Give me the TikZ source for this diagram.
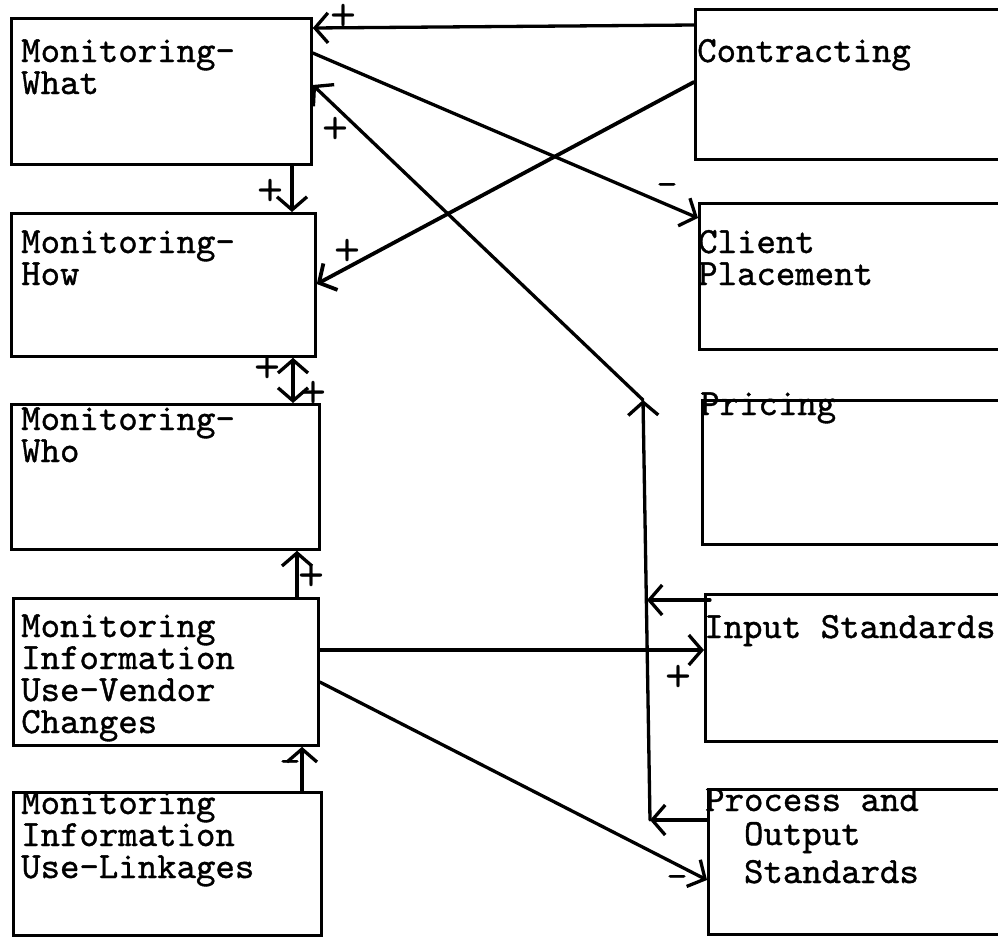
\documentclass[tikz,border=0pt]{standalone}
\usepackage{fontspec}
\setmonofont[FakeBold=1]{lmmono10-regular.otf}
\newfontfamily\signfont[FakeBold=1.5]{lmsans10-bold.otf}
\usepackage{tikz}
\usetikzlibrary{arrows.meta}

\tikzset{barb/.tip={Straight Barb[length=13pt,width=30pt]}}

\begin{document}
\begin{tikzpicture}[
  x=1pt, y=-1pt,
  box/.style ={draw, line width=2.8pt, anchor=north west, inner sep=0pt},
  txt/.style ={font=\ttfamily\fontsize{37}{32}\selectfont, anchor=base west,
               align=left, inner sep=0pt},
  sgn/.style ={font=\signfont\fontsize{30}{30}\selectfont, inner sep=0pt},
  lnk/.style ={-barb, line width=3.3pt, line cap=round},
  both/.style={barb-barb, line width=3.3pt, line cap=round}]

\useasboundingbox (0,0) rectangle (998,938);
\clip (0,0) rectangle (998,938);

% left column
\node[box, minimum width=300pt, minimum height=146pt] (what)     at (10,17)  {};
\node[box, minimum width=304pt, minimum height=143pt] (how)      at (10,212) {};
\node[box, minimum width=308pt, minimum height=145pt] (who)      at (10,403) {};
\node[box, minimum width=305pt, minimum height=147pt] (vendor)   at (12,597) {};
\node[box, minimum width=308pt, minimum height=143pt] (linkages) at (12,791) {};

% right column, running off the sheet
\node[box, minimum width=340pt, minimum height=150pt] (contr)   at (694,8)   {};
\node[box, minimum width=340pt, minimum height=146pt] (client)  at (698,202) {};
\node[box, minimum width=340pt, minimum height=144pt] (pricing) at (701,399) {};
\node[box, minimum width=340pt, minimum height=147pt] (input)   at (704,593) {};
\node[box, minimum width=340pt, minimum height=145pt] (process) at (707,788) {};

% labels sit on the baseline of their last line
\node[txt] (what-t)     at (21,94)  {Monitoring-\\What};
\node[txt] (how-t)      at (21,285) {Monitoring-\\How};
\node[txt] (who-t)      at (21,462) {Monitoring-\\Who};
\node[txt] (vendor-t)   at (21,733) {Monitoring\\Information\\Use-Vendor\\Changes};
\node[txt] (linkages-t) at (21,878) {Monitoring\\Information\\Use-Linkages};
\node[txt] (contr-t)    at (697,62)  {Contracting};
\node[txt] (client-t)   at (698,285) {Client\\Placement};
\node[txt] (pricing-t)  at (700,415) {Pricing};
\node[txt] (input-t)    at (704,638) {Input Standards};
\node[txt] (process-t)  at (705,883) {Process and\\[2pt]~~Output\\[6pt]~~Standards};

% the standards feed one line up to pricing and on to monitoring
\coordinate (bustop) at (643,400);
\coordinate (busin)  at (647,600);
\coordinate (busout) at (650,820);

\draw[lnk] (busout) -- (bustop);
\draw[lnk] ([xshift=6pt,yshift=-7pt]input.north west) -- (busin);
\draw[lnk] ([yshift=-32pt]process.north west) -- (busout);
\draw[lnk] (bustop) -- ([yshift=-68pt]what.north east);

% links across the columns
\draw[lnk] ([yshift=-17pt]contr.north west) -- ([yshift=-11pt]what.north east);
\draw[lnk] ([yshift=-36pt]what.north east) -- ([yshift=-16pt]client.north west);
\draw[lnk, line width=3.8pt] ([yshift=-74pt]contr.north west) -- ([yshift=-72pt]how.north east);
\draw[lnk] ([yshift=-53pt]vendor.north east) -- ([yshift=-57pt]input.north west);
\draw[lnk] ([yshift=-85pt]vendor.north east) -- ([yshift=-92pt]process.north west);

% links down the left column
\draw[lnk]  ([xshift=282pt]what.south west) -- ([xshift=282pt]how.north west);
\draw[both] ([xshift=283pt]how.south west) -- ([xshift=283pt]who.north west);
\draw[lnk]  ([xshift=285pt]vendor.north west) -- ([xshift=287pt]who.south west);
\draw[lnk]  ([xshift=290pt]linkages.north west) -- ([xshift=290pt]vendor.south west);

% signs
\node[sgn] (s-cw) at (343,15)  {+};
\node[sgn] (s-bw) at (335,128) {+};
\node[sgn] (s-wc) at (667,188) {–};
\node[sgn] (s-ch) at (347,250) {+};
\node[sgn] (s-wh) at (270,190) {+};
\node[sgn] (s-hw) at (267,367) {+};
\node[sgn] (s-wo) at (313,392) {+};
\node[sgn] (s-vw) at (311,575) {+};
\node[sgn] (s-lv) at (290,765) {–};
\node[sgn] (s-vi) at (678,676) {+};
\node[sgn] (s-vp) at (677,880) {–};

\end{tikzpicture}
\end{document}
